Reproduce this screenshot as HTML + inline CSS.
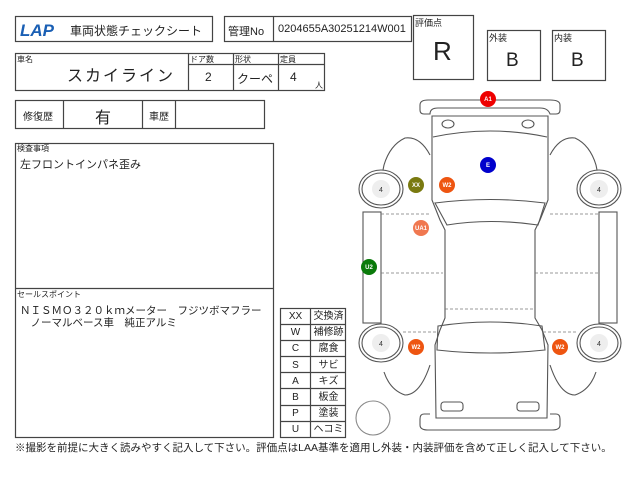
<!DOCTYPE html>
<html><head><meta charset="utf-8"><style>
body{margin:0;width:640px;height:480px;background:#fff;overflow:hidden;position:relative;font-family:"Liberation Sans","Noto Sans CJK JP",sans-serif;color:#222}
.t{position:absolute;white-space:nowrap}
</style></head><body>
<svg width="640" height="480" style="position:absolute;left:0;top:0" font-family="Liberation Sans, Noto Sans CJK JP, sans-serif">
<g fill="none" stroke="#444" stroke-width="1.2">
<rect x="15.5" y="16.5" width="197" height="25"/>
<rect x="224.5" y="16.5" width="187" height="25"/><line x1="273.5" y1="16" x2="273.5" y2="42"/>
<rect x="413.5" y="15.5" width="60" height="64"/>
<rect x="487.5" y="30.5" width="53" height="50"/>
<rect x="552.5" y="30.5" width="53" height="50"/>
<rect x="15.5" y="53.5" width="309" height="37"/>
<line x1="188.5" y1="53" x2="188.5" y2="91"/><line x1="233.5" y1="53" x2="233.5" y2="91"/><line x1="278.5" y1="53" x2="278.5" y2="91"/>
<line x1="188" y1="64.5" x2="325" y2="64.5"/>
<rect x="15.5" y="100.5" width="249" height="28"/>
<line x1="63.5" y1="100" x2="63.5" y2="129"/><line x1="142.5" y1="100" x2="142.5" y2="129"/><line x1="175.5" y1="100" x2="175.5" y2="129"/>
<rect x="15.5" y="143.5" width="258" height="294"/><line x1="15" y1="288.5" x2="274" y2="288.5"/>
<rect x="280.5" y="308.5" width="65" height="129"/><line x1="310.5" y1="308" x2="310.5" y2="438"/>
<line x1="280" y1="324.5" x2="346" y2="324.5"/><line x1="280" y1="340.5" x2="346" y2="340.5"/><line x1="280" y1="356.5" x2="346" y2="356.5"/><line x1="280" y1="372.5" x2="346" y2="372.5"/><line x1="280" y1="388.5" x2="346" y2="388.5"/><line x1="280" y1="405.5" x2="346" y2="405.5"/><line x1="280" y1="421.5" x2="346" y2="421.5"/>
</g>
<g fill="none" stroke="#555" stroke-width="1.1">
<path d="M430 114 L424 114 Q420 114 420 110 L420 105 Q420 100 428 100 L550 100 Q560 100 560 105 L560 110 Q560 114 556 114 L550 114 Q548 108 540 108 L438 108 Q430 108 430 114Z"/>
<path d="M432 116 L548 116 L548 200 L540 220 L535 230 L535 318 L542 330 L548 345 L547 418 L436 418 L435 345 L440 330 L445 318 L445 230 L440 220 L432 200 Z"/>
<ellipse cx="448" cy="124" rx="6" ry="4"/><ellipse cx="528" cy="124" rx="6" ry="4"/>
<path d="M433 137 Q490 125 547 137"/>
<path d="M435 203 Q490 196 545 203 L538 225 Q490 218 447 225 Z"/>
<path d="M438 326 Q490 318 542 326 L545 350 Q490 356 437 350 Z"/>
<rect x="441" y="402" width="22" height="9" rx="3"/><rect x="517" y="402" width="22" height="9" rx="3"/>
<path d="M430 414 L424 414 Q420 414 420 419 L420 425 Q420 430 428 430 L552 430 Q560 430 560 425 L560 419 Q560 414 556 414 L550 414"/>
<path d="M430 155 Q420 136 405 138 Q390 145 384 165 L383 170"/>
<path d="M550 155 Q560 136 575 138 Q590 145 596 165 L597 170"/>
<path d="M430 365 Q420 395 405 395 Q390 390 384 372"/>
<path d="M550 365 Q560 395 575 395 Q590 390 596 372"/>
<ellipse cx="381" cy="189" rx="22" ry="19"/><ellipse cx="381" cy="189" rx="19" ry="16"/>
<ellipse cx="599" cy="189" rx="22" ry="19"/><ellipse cx="599" cy="189" rx="19" ry="16"/>
<ellipse cx="381" cy="343" rx="22" ry="19"/><ellipse cx="381" cy="343" rx="19" ry="16"/>
<ellipse cx="599" cy="343" rx="22" ry="19"/><ellipse cx="599" cy="343" rx="19" ry="16"/>
<rect x="363" y="212" width="18" height="111"/>
<rect x="599" y="212" width="18" height="111"/>
<circle cx="373" cy="418" r="17" stroke="#888"/>
</g>
<g fill="#eee"><circle cx="381" cy="189" r="9"/><circle cx="599" cy="189" r="9"/><circle cx="381" cy="343" r="9"/><circle cx="599" cy="343" r="9"/></g>
<g font-size="7" fill="#333" text-anchor="middle"><text x="381" y="192">4</text><text x="599" y="192">4</text><text x="381" y="346">4</text><text x="599" y="346">4</text></g>
<g stroke="#777" stroke-dasharray="3,2" stroke-width="0.8">
<line x1="381" y1="214" x2="430" y2="214"/><line x1="550" y1="214" x2="599" y2="214"/>
<line x1="381" y1="273" x2="443" y2="273"/><line x1="535" y1="273" x2="599" y2="273"/>
<line x1="445" y1="309" x2="535" y2="309"/>
<line x1="403" y1="332" x2="437" y2="332"/><line x1="543" y1="332" x2="577" y2="332"/>
</g>
<g font-size="6" font-weight="bold" fill="#fff" text-anchor="middle">
<circle cx="488" cy="99" r="8" fill="#e00"/><text x="488" y="101">A1</text>
<circle cx="488" cy="165" r="8" fill="#0000cc"/><text x="488" y="167">E</text>
<circle cx="416" cy="185" r="8" fill="#7a7a10"/><text x="416" y="187">XX</text>
<circle cx="447" cy="185" r="8" fill="#ee5511"/><text x="447" y="187">W2</text>
<circle cx="421" cy="228" r="8" fill="#f07850"/><text x="421" y="230">UA1</text>
<circle cx="369" cy="267" r="8" fill="#0a7a0a"/><text x="369" y="269">U2</text>
<circle cx="416" cy="347" r="8" fill="#ee5511"/><text x="416" y="349">W2</text>
<circle cx="560" cy="347" r="8" fill="#ee5511"/><text x="560" y="349">W2</text>
</g>
<text x="20" y="36" font-size="17" font-weight="bold" font-style="italic" fill="#1a5fb4">LAP</text>
</svg>
<div class="t" style="left:70px;top:22px;font-size:12px">車両状態チェックシート</div>
<div class="t" style="left:228px;top:23px;font-size:11px">管理No</div>
<div class="t" style="left:278px;top:23px;font-size:11px">0204655A30251214W001</div>
<div class="t" style="left:415px;top:16px;font-size:9px">評価点</div>
<div class="t" style="left:433px;top:36px;font-size:26px">R</div>
<div class="t" style="left:489px;top:31px;font-size:9px">外装</div>
<div class="t" style="left:506px;top:50px;font-size:19px">B</div>
<div class="t" style="left:554px;top:31px;font-size:9px">内装</div>
<div class="t" style="left:571px;top:50px;font-size:19px">B</div>
<div class="t" style="left:17px;top:54px;font-size:8px">車名</div>
<div class="t" style="left:67px;top:62px;font-size:16px;letter-spacing:2px">スカイライン</div>
<div class="t" style="left:190px;top:54px;font-size:8px">ドア数</div>
<div class="t" style="left:235px;top:54px;font-size:8px">形状</div>
<div class="t" style="left:280px;top:54px;font-size:8px">定員</div>
<div class="t" style="left:205px;top:70px;font-size:12px">2</div>
<div class="t" style="left:237px;top:70px;font-size:12px">クーペ</div>
<div class="t" style="left:290px;top:70px;font-size:12px">4</div>
<div class="t" style="left:315px;top:80px;font-size:8px">人</div>
<div class="t" style="left:23px;top:108px;font-size:10px">修復歴</div>
<div class="t" style="left:95px;top:104px;font-size:16px">有</div>
<div class="t" style="left:149px;top:108px;font-size:10px">車歴</div>
<div class="t" style="left:17px;top:143px;font-size:8px">検査事項</div>
<div class="t" style="left:20px;top:156px;font-size:11px">左フロントインパネ歪み</div>
<div class="t" style="left:17px;top:289px;font-size:8px">セールスポイント</div>
<div class="t" style="left:20px;top:305px;font-size:10.5px;line-height:12px">ＮＩＳＭＯ３２０ｋｍメーター　フジツボマフラー<br>　ノーマルベース車　純正アルミ</div>
<div class="t" style="left:281px;top:309px;width:29px;text-align:center;font-size:10px;line-height:16.2px">XX<br>W<br>C<br>S<br>A<br>B<br>P<br>U</div>
<div class="t" style="left:311px;top:309px;width:35px;text-align:center;font-size:10px;line-height:16.2px">交換済<br>補修跡<br>腐食<br>サビ<br>キズ<br>板金<br>塗装<br>ヘコミ</div>
<div class="t" style="left:15px;top:440px;font-size:10.5px">※撮影を前提に大きく読みやすく記入して下さい。評価点はLAA基準を適用し外装・内装評価を含めて正しく記入して下さい。</div>
</body></html>
